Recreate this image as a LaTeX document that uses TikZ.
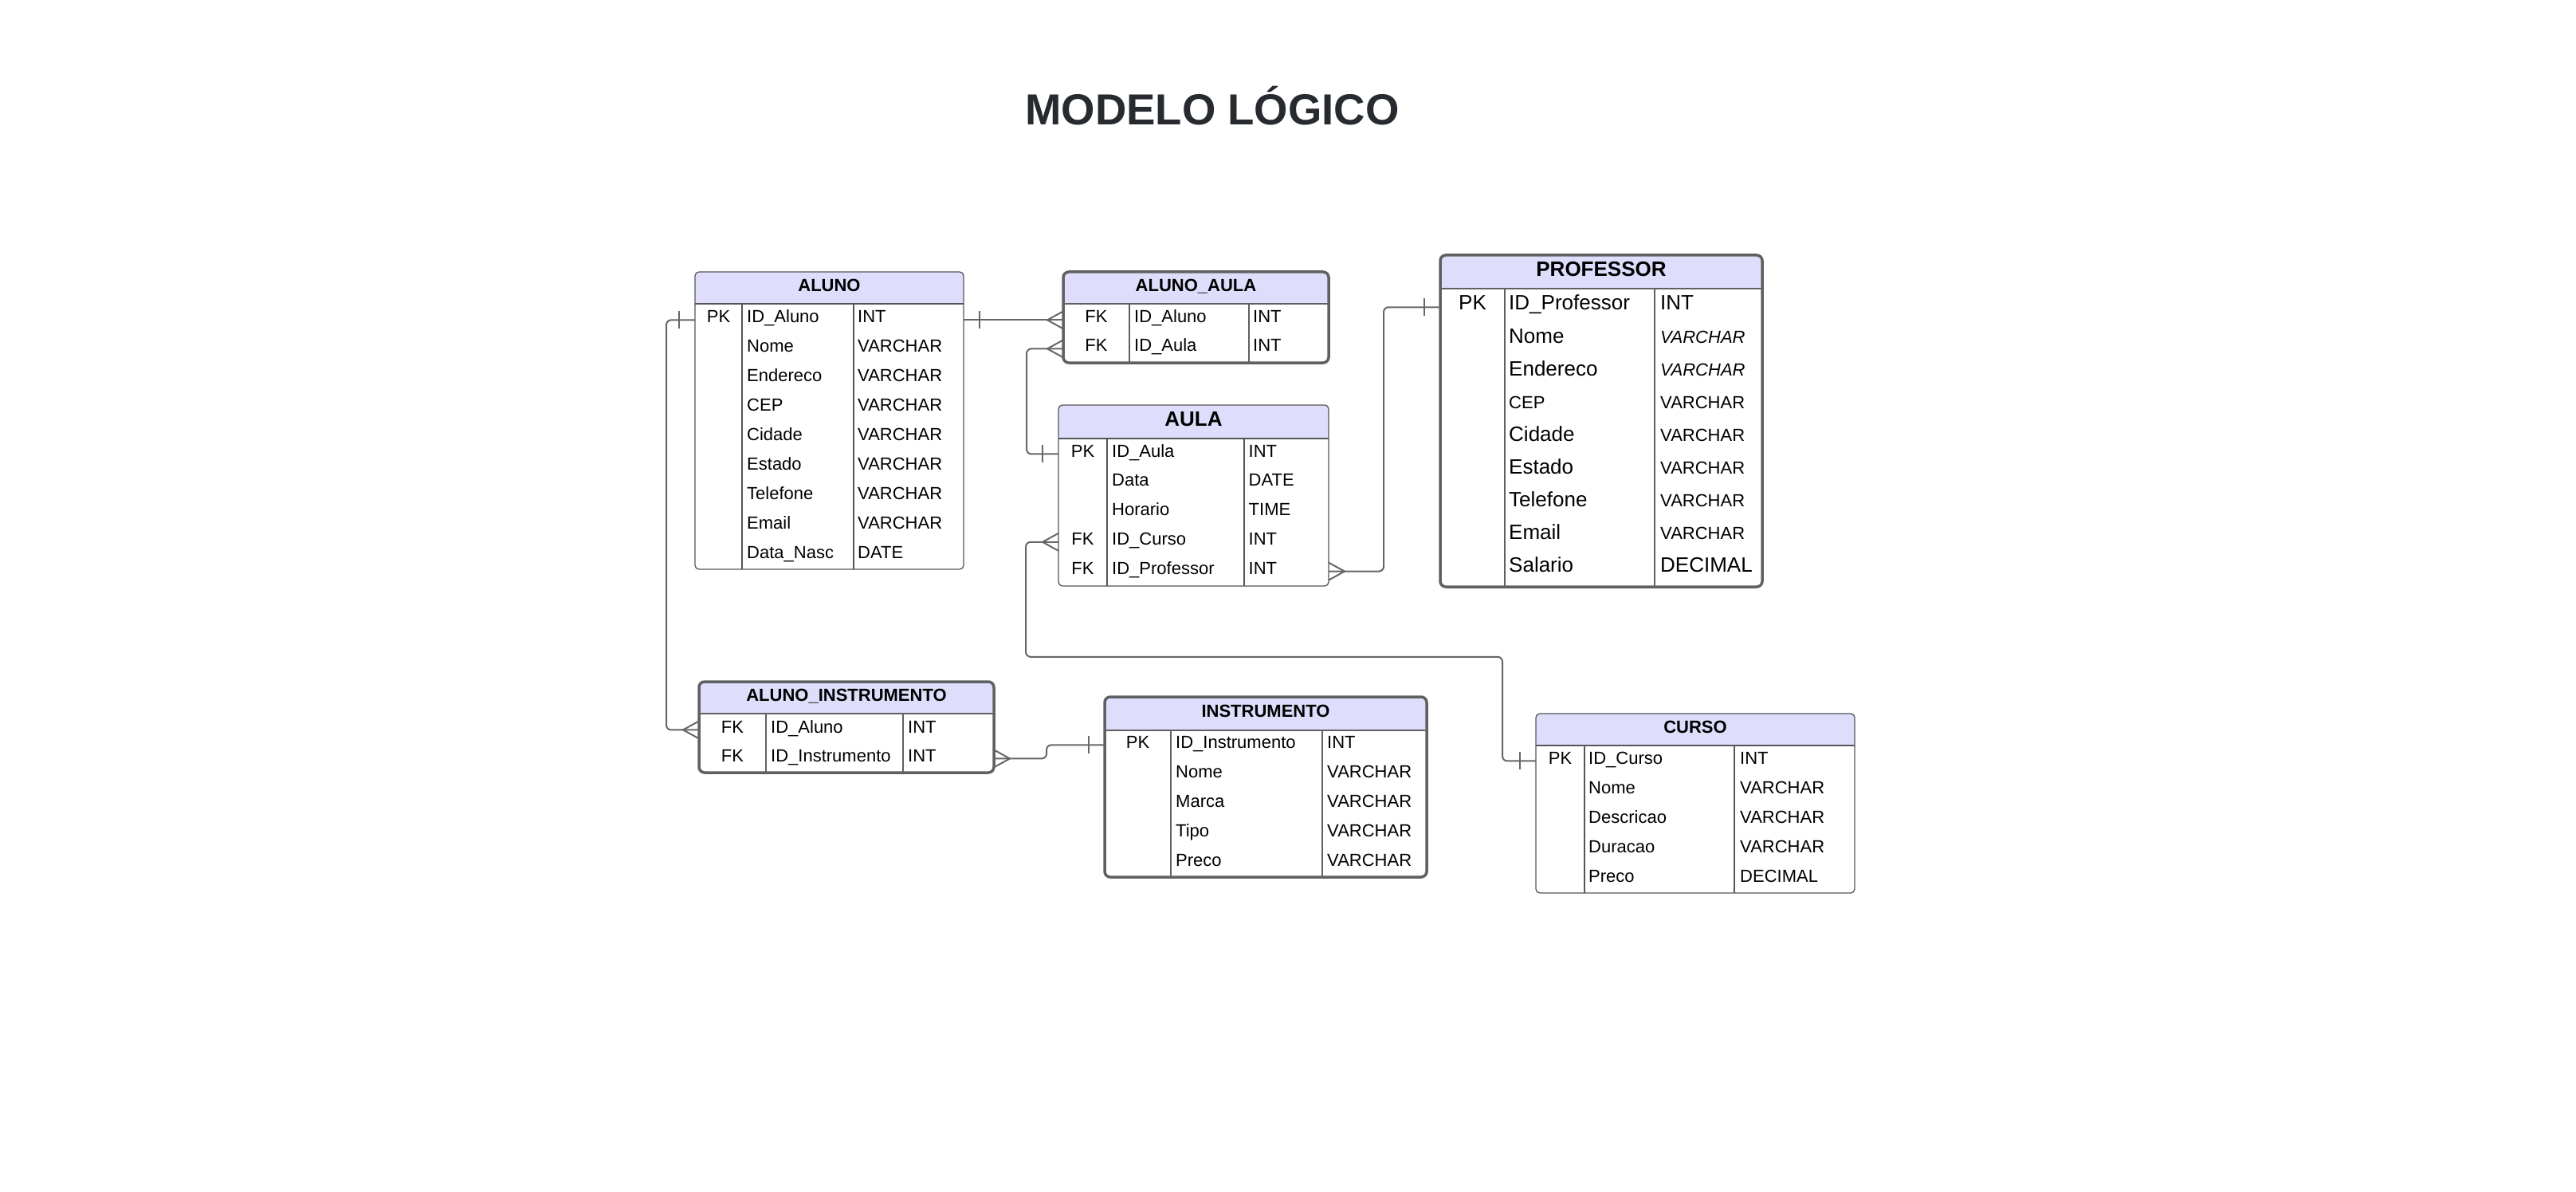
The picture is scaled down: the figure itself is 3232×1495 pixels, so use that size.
\documentclass[tikz,border=0pt]{standalone}
\usepackage{fontspec}
\setmainfont{Liberation Sans}
\usepackage{xcolor}
\usepackage{tikz}
\usetikzlibrary{positioning,calc}

\definecolor{lavanda}{RGB}{222,222,252}
\definecolor{borda}{RGB}{96,96,96}
\definecolor{bordafina}{RGB}{85,85,85}
\definecolor{cinzalinha}{RGB}{102,102,102}
\definecolor{titulo}{RGB}{39,43,48}

\newcommand{\fcorpo}{\fontsize{22}{26}\selectfont}
\newcommand{\fgrande}{\fontsize{26}{31}\selectfont}

\tikzset{
  pe/.pic={\draw[liga,sharp corners] (0,-11) -- (-20,0) -- (0,11);},
  barra/.pic={\draw[liga] (-20,-11) -- (-20,11);}
}

\begin{document}
\begin{tikzpicture}[x=1pt,y=-1pt,
    tabela/.style={rectangle,draw=bordafina,line width=1.3pt,rounded corners=5pt,
      inner sep=0pt,outer sep=0pt,anchor=north west},
    grossa/.style={draw=borda,line width=3.5pt,rounded corners=7pt},
    cabec/.style={path picture={\fill[lavanda] (path picture bounding box.north west)
      rectangle ([yshift=-#1]path picture bounding box.north east);}},
    divf/.style={draw=bordafina,line width=1.3pt},
    divg/.style={draw=borda,line width=2.6pt},
    liga/.style={draw=cinzalinha,line width=2pt,rounded corners=6pt},
    cab/.style={anchor=base,inner sep=0pt,font=\bfseries\fcorpo},
    chave/.style={anchor=base,inner sep=0pt,text height=0.72em,text depth=0pt,font=\fcorpo},
    campo/.style={anchor=base west,inner sep=0pt,font=\fcorpo}]

\useasboundingbox (0,0) rectangle (3232,1495);

% titulo
\node[anchor=base,inner sep=0pt,text=titulo,font=\bfseries\fontsize{54.5}{60}\selectfont] (titulo) at (1521,157) {MODELO LÓGICO};

% ALUNO
\node[tabela,cabec=40pt,minimum width=337pt,minimum height=373pt] (aluno) at (872,341) {};
\draw[divf] (872,381) -- (1209,381) (931,381) -- (931,714) (1071,381) -- (1071,714);
\node[cab] (aluno-nome) at (1040.5,366) {ALUNO};
\foreach \k/\c/\t [count=\i] in {PK/ID\_Aluno/INT, /Nome/VARCHAR, /Endereco/VARCHAR, /CEP/VARCHAR,
    /Cidade/VARCHAR, /Estado/VARCHAR, /Telefone/VARCHAR, /Email/VARCHAR, /Data\_Nasc/DATE}{
  \node[chave] (aluno-k\i) at (901.5,{405+(\i-1)*36.9}) {\k};
  \node[campo] (aluno-c\i) at (937,{405+(\i-1)*36.9}) {\c};
  \node[campo] (aluno-t\i) at (1076,{405+(\i-1)*36.9}) {\t};
}

% ALUNO_AULA
\node[tabela,grossa,cabec=40pt,minimum width=333pt,minimum height=114pt] (alunoaula) at (1334,341) {};
\draw[divg] (1334,381) -- (1667,381) (1417,381) -- (1417,455) (1567,381) -- (1567,455);
\node[cab] (alunoaula-nome) at (1500.5,366) {ALUNO\_AULA};
\foreach \k/\c/\t [count=\i] in {FK/ID\_Aluno/INT, FK/ID\_Aula/INT}{
  \node[chave] (alunoaula-k\i) at (1375.5,{405+(\i-1)*36}) {\k};
  \node[campo] (alunoaula-c\i) at (1423,{405+(\i-1)*36}) {\c};
  \node[campo] (alunoaula-t\i) at (1572,{405+(\i-1)*36}) {\t};
}

% AULA
\node[tabela,cabec=42pt,minimum width=339pt,minimum height=227pt] (aula) at (1328,508) {};
\draw[divf] (1328,550) -- (1667,550) (1389,550) -- (1389,735) (1561,550) -- (1561,735);
\node[cab,font=\bfseries\fgrande] (aula-nome) at (1497.5,534) {AULA};
\foreach \k/\c/\t [count=\i] in {PK/ID\_Aula/INT, /Data/DATE, /Horario/TIME,
    FK/ID\_Curso/INT, FK/ID\_Professor/INT}{
  \node[chave] (aula-k\i) at (1358.5,{573+(\i-1)*36.8}) {\k};
  \node[campo] (aula-c\i) at (1395,{573+(\i-1)*36.8}) {\c};
  \node[campo] (aula-t\i) at (1566.5,{573+(\i-1)*36.8}) {\t};
}

% PROFESSOR
\node[tabela,grossa,cabec=42pt,minimum width=404pt,minimum height=416pt] (professor) at (1807,320) {};
\draw[divg] (1807,362) -- (2211,362) (1888,362) -- (1888,736) (2076,362) -- (2076,736);
\node[cab,font=\bfseries\fgrande] (professor-nome) at (2009,347) {PROFESSOR};
\foreach \k/\c/\t [count=\i] in {PK/ID\_Professor/INT, /Nome/\fcorpo\itshape VARCHAR,
    /Endereco/\fcorpo\itshape VARCHAR, /\fcorpo CEP/\fcorpo VARCHAR, /Cidade/\fcorpo VARCHAR,
    /Estado/\fcorpo VARCHAR, /Telefone/\fcorpo VARCHAR, /Email/\fcorpo VARCHAR, /Salario/DECIMAL}{
  \node[chave,font=\fgrande] (professor-k\i) at (1847.5,{389+(\i-1)*41.1}) {\k};
  \node[campo,font=\fgrande] (professor-c\i) at (1893,{389+(\i-1)*41.1}) {\c};
  \node[campo,font=\fgrande] (professor-t\i) at (2083,{389+(\i-1)*41.1}) {\t};
}

% ALUNO_INSTRUMENTO
\node[tabela,grossa,cabec=40pt,minimum width=370pt,minimum height=114pt] (alunoinstr) at (877,855) {};
\draw[divg] (877,895) -- (1247,895) (961,895) -- (961,969) (1133,895) -- (1133,969);
\node[cab] (alunoinstr-nome) at (1062,879) {ALUNO\_INSTRUMENTO};
\foreach \k/\c/\t [count=\i] in {FK/ID\_Aluno/INT, FK/ID\_Instrumento/INT}{
  \node[chave] (alunoinstr-k\i) at (919,{919+(\i-1)*36}) {\k};
  \node[campo] (alunoinstr-c\i) at (967,{919+(\i-1)*36}) {\c};
  \node[campo] (alunoinstr-t\i) at (1139,{919+(\i-1)*36}) {\t};
}

% INSTRUMENTO
\node[tabela,grossa,cabec=42pt,minimum width=404pt,minimum height=226pt] (instrumento) at (1386,874) {};
\draw[divg] (1386,916) -- (1790,916) (1469,916) -- (1469,1100) (1659,916) -- (1659,1100);
\node[cab] (instrumento-nome) at (1588,899) {INSTRUMENTO};
\foreach \k/\c/\t [count=\i] in {PK/ID\_Instrumento/INT, /Nome/VARCHAR, /Marca/VARCHAR,
    /Tipo/VARCHAR, /Preco/VARCHAR}{
  \node[chave] (instrumento-k\i) at (1427.5,{938+(\i-1)*37}) {\k};
  \node[campo] (instrumento-c\i) at (1475,{938+(\i-1)*37}) {\c};
  \node[campo] (instrumento-t\i) at (1665,{938+(\i-1)*37}) {\t};
}

% CURSO
\node[tabela,cabec=40pt,minimum width=400pt,minimum height=225pt] (curso) at (1927,895) {};
\draw[divf] (1927,935) -- (2327,935) (1988,935) -- (1988,1120) (2176,935) -- (2176,1120);
\node[cab] (curso-nome) at (2127,919) {CURSO};
\foreach \k/\c/\t [count=\i] in {PK/ID\_Curso/INT, /Nome/VARCHAR, /Descricao/VARCHAR,
    /Duracao/VARCHAR, /Preco/DECIMAL}{
  \node[chave] (curso-k\i) at (1957.5,{958+(\i-1)*37}) {\k};
  \node[campo] (curso-c\i) at (1993,{958+(\i-1)*37}) {\c};
  \node[campo] (curso-t\i) at (2183,{958+(\i-1)*37}) {\t};
}

% relacionamentos
\draw[liga] (aluno-k1 -| aluno.east) -- (alunoaula-k1 -| alunoaula.west);
\pic[rotate=180] at (aluno-k1 -| aluno.east) {barra};
\pic at (alunoaula-k1 -| alunoaula.west) {pe};

\draw[liga] (aula-k1 -| aula.west) -- ++(-40,0) |- (alunoaula-k2 -| alunoaula.west);
\pic at (aula-k1 -| aula.west) {barra};
\pic at (alunoaula-k2 -| alunoaula.west) {pe};

\draw[liga] (aula-k4 -| aula.west) -- ++(-41,0) -- ++(0,144)
  -| ($(curso-k1 -| curso.west)+(-42,0)$) -- (curso-k1 -| curso.west);
\pic at (aula-k4 -| aula.west) {pe};
\pic at (curso-k1 -| curso.west) {barra};

\draw[liga] (aula-k5 -| aula.east) -- ++(69,0) |- (professor-k1 -| professor.west);
\pic[rotate=180] at (aula-k5 -| aula.east) {pe};
\pic at (professor-k1 -| professor.west) {barra};

\draw[liga] (aluno-k1 -| aluno.west) -- ++(-36,0) |- (alunoinstr-k1 -| alunoinstr.west);
\pic at (aluno-k1 -| aluno.west) {barra};
\pic at (alunoinstr-k1 -| alunoinstr.west) {pe};

\draw[liga] (alunoinstr-k2 -| alunoinstr.east) -- ++(66,0) |- (instrumento-k1 -| instrumento.west);
\pic[rotate=180] at (alunoinstr-k2 -| alunoinstr.east) {pe};
\pic at (instrumento-k1 -| instrumento.west) {barra};

\end{tikzpicture}
\end{document}
